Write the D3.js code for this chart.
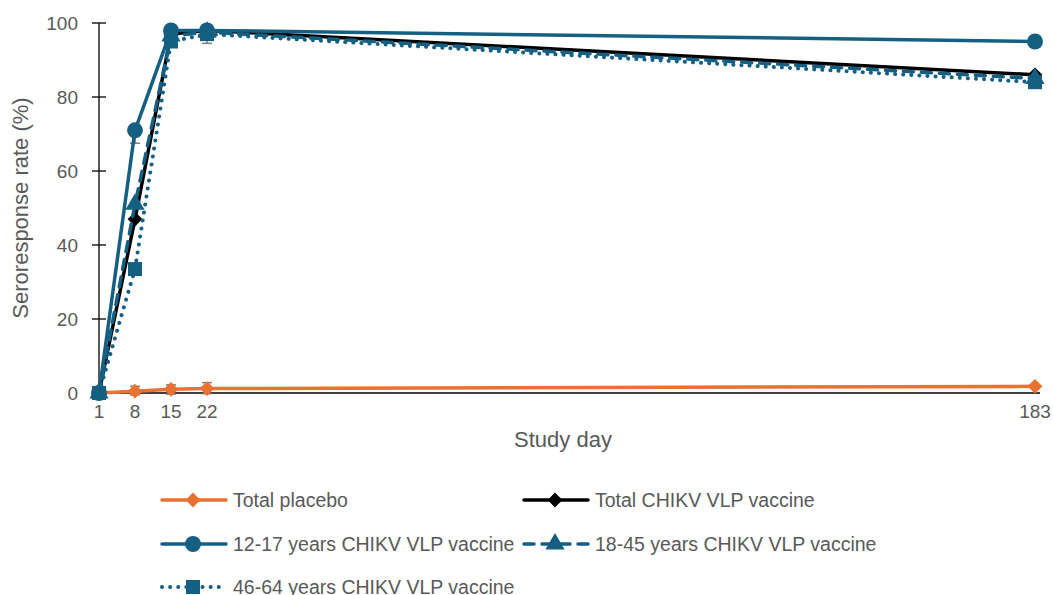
<!DOCTYPE html>
<html>
<head>
<meta charset="utf-8">
<script src="https://cdn.jsdelivr.net/npm/d3@7"></script>
<style>
  body { margin: 0; background: #fff; }
  text { font-family: 'Liberation Sans', Arial, sans-serif; fill: #595959; }
</style>
</head>
<body>
<svg id="chart" width="1053" height="595"></svg>
<script>
// Study days and seroresponse rates (%)
const days = [1, 8, 15, 22, 183]
const placebo = [0, 0.5, 1, 1.2, 1.8]
const totalVaccine = [0, 47, 97, 98, 86]
const age12to17 = [0, 71, 98, 98, 95]
const age18to45 = [0, 51, 96.5, 97.5, 85]
const age46to64 = [0, 33.5, 95, 97, 84]
const yTicks = [0, 20, 40, 60, 80, 100]

// Error bar bounds [lower, upper] for a few visible points
const errors = [
  { day: 8, lo: 67.5, hi: 71 },
  { day: 22, lo: 94.5, hi: 99.5 },
  { day: 15, lo: 95, hi: 99.5 },
  { day: 8, lo: -0.5, hi: 1.8 },
  { day: 15, lo: -0.3, hi: 2.2 },
  { day: 22, lo: -0.2, hi: 2.8 }
]

const svg = d3.select('#chart')

let x = d3.scaleLinear().domain([1, 183]).range([99, 1035])
let y = d3.scaleLinear().domain([0, 100]).range([393, 23])

const teal = '#156082'
const orange = '#E97132'

// Square diamond, like the spreadsheet marker
const symbolRhomb = {
  draw (ctx, size) {
    let r = Math.sqrt(size / 2)
    ctx.moveTo(0, -r)
    ctx.lineTo(r, 0)
    ctx.lineTo(0, r)
    ctx.lineTo(-r, 0)
    ctx.closePath()
  }
}

// Axes
svg.append('line')
  .attr('x1', x(1)).attr('x2', 1040)
  .attr('y1', y(0)).attr('y2', y(0))
  .attr('stroke', '#000').attr('stroke-width', 1.3)

svg.append('line')
  .attr('x1', x(1)).attr('x2', x(1))
  .attr('y1', y(0)).attr('y2', y(100))
  .attr('stroke', '#000').attr('stroke-width', 1.3)

svg.selectAll('.ytick')
  .data(yTicks)
  .enter().append('line')
  .attr('x1', x(1) - 7).attr('x2', x(1) + 7)
  .attr('y1', d => y(d)).attr('y2', d => y(d))
  .attr('stroke', '#000').attr('stroke-width', 1.3)

svg.selectAll('.ylabel')
  .data(yTicks)
  .enter().append('text')
  .attr('x', 78)
  .attr('y', d => y(d) + 7)
  .attr('text-anchor', 'end')
  .style('font-size', '19px')
  .text(d => d)

svg.selectAll('.xlabel')
  .data(days)
  .enter().append('text')
  .attr('x', d => x(d))
  .attr('y', 418)
  .attr('text-anchor', 'middle')
  .style('font-size', '19px')
  .text(d => d)

svg.append('text')
  .attr('x', 563).attr('y', 447)
  .attr('text-anchor', 'middle')
  .style('font-size', '22px')
  .text('Study day')

svg.append('text')
  .attr('transform', 'translate(28,' + y(50) + ') rotate(-90)')
  .attr('text-anchor', 'middle')
  .style('font-size', '22px')
  .text('Seroresponse rate (%)')

// Error bars
let eb = svg.append('g').attr('stroke', '#7f7f7f').attr('stroke-width', 1.5)
errors.forEach(e => {
  eb.append('line')
    .attr('x1', x(e.day)).attr('x2', x(e.day))
    .attr('y1', y(e.lo)).attr('y2', y(e.hi))
  ;[e.lo, e.hi].forEach(v => {
    eb.append('line')
      .attr('x1', x(e.day) - 5).attr('x2', x(e.day) + 5)
      .attr('y1', y(v)).attr('y2', y(v))
  })
})

const series = [
  { name: 'Total placebo', values: placebo, color: orange, dash: null, symbol: symbolRhomb, size: 110 },
  { name: 'Total CHIKV VLP vaccine', values: totalVaccine, color: '#000', dash: null, symbol: symbolRhomb, size: 110 },
  { name: '12-17 years CHIKV VLP vaccine', values: age12to17, color: teal, dash: null, symbol: d3.symbolCircle, size: 200 },
  { name: '18-45 years CHIKV VLP vaccine', values: age18to45, color: teal, dash: '10,8', symbol: d3.symbolTriangle, size: 160 },
  { name: '46-64 years CHIKV VLP vaccine', values: age46to64, color: teal, dash: '0.1,8', symbol: d3.symbolSquare, size: 196 }
]

let line = d3.line()
  .x(d => x(d[0]))
  .y(d => y(d[1]))

function strokeOf (g, s) {
  return g.attr('fill', 'none')
    .attr('stroke', s.color)
    .attr('stroke-width', s.dash === '0.1,8' ? 4 : 3.5)
    .attr('stroke-linecap', s.dash ? 'round' : 'butt')
    .attr('stroke-linejoin', 'round')
    .attr('stroke-dasharray', s.dash)
}

function drawSymbol (g, s, cx, cy) {
  g.append('path')
    .attr('d', d3.symbol().type(s.symbol).size(s.size)())
    .attr('transform', 'translate(' + cx + ',' + cy + ')')
    .attr('fill', s.color)
}

series.forEach(s => {
  let g = svg.append('g')
  let pts = days.map((d, i) => [d, s.values[i]])
  strokeOf(g.append('path').attr('d', line(pts)), s)
  pts.forEach(p => drawSymbol(g, s, x(p[0]), y(p[1])))
})

// Legend
const legendPos = [
  [160, 500], [522, 500],
  [160, 544], [522, 544],
  [160, 587]
]

series.forEach((s, i) => {
  let [lx, ly] = legendPos[i]
  let g = svg.append('g')
  strokeOf(g.append('path').attr('d', 'M' + (lx + 2) + ',' + ly + 'H' + (lx + 66)), s)
    .attr('stroke-linecap', 'round')
  drawSymbol(g, s, lx + 33, ly)
  g.append('text')
    .attr('x', lx + 73)
    .attr('y', ly + 7)
    .style('font-size', '19.5px')
    .text(s.name)
})
</script>
</body>
</html>
